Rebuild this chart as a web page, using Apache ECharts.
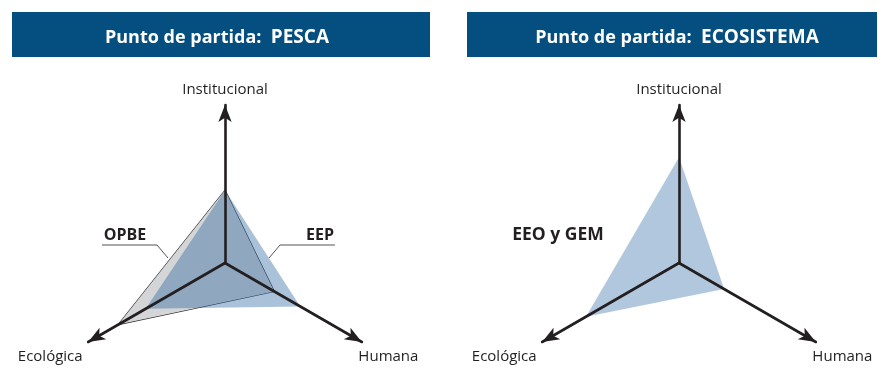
<!DOCTYPE html>
<html>
<head>
<meta charset="utf-8">
<script src="https://cdn.jsdelivr.net/npm/echarts@6/dist/echarts.min.js"></script>
<style>
  html, body { margin: 0; padding: 0; background: #fff; }
  #chart { width: 878px; height: 383px; }
</style>
</head>
<body>
<div id="chart"></div>
<script>
// ejes de los dos diagramas
const indicators = ['Institucional', 'Ecológica', 'Humana'];
const axisMax = 10;

// punto de partida: PESCA
const opbe = [4.6, 7.8, 3.6];
const eep = [4.6, 5.8, 5.5];

// punto de partida: ECOSISTEMA
const eeoGem = [6.7, 6.8, 3.3];

const titles = ['PESCA', 'ECOSISTEMA'];

const ink = '#231f20';
const font = '"Open Sans", "Noto Sans", sans-serif';

// rich keys so each axis name can sit a little differently
const nameKey = {'Institucional': 't', 'Ecológica': 'l', 'Humana': 'r'};

function makeRadar(center) {
    return {
        center: center,
        radius: 158,
        startAngle: 90,
        shape: 'polygon',
        z: 5,
        indicator: indicators.map(n => ({name: n, max: axisMax, min: 0})),
        axisName: {
            color: ink,
            fontFamily: font,
            fontSize: 15,
            formatter: name => '{' + nameKey[name] + '|' + name + '}',
            rich: {
                t: {fontSize: 15, fontFamily: font, color: ink, padding: [0, 0, 12, 0]},
                l: {fontSize: 15, fontFamily: font, color: ink, padding: [34, 9, 0, 0]},
                r: {fontSize: 15, fontFamily: font, color: ink, padding: [34, 0, 0, 0]}
            }
        },
        nameGap: -4,
        axisLine: {
            show: true,
            symbol: ['none', 'arrow'],
            symbolSize: [10, 17],
            lineStyle: {color: ink, width: 2.6}
        },
        axisTick: {show: false},
        axisLabel: {show: false},
        splitLine: {show: false},
        splitArea: {show: false}
    };
}

function titleBar(x, w, textX, word) {
    return [
        {
            type: 'rect',
            shape: {x: x, y: 12, width: w, height: 45},
            style: {fill: '#044f80'}
        },
        {
            type: 'text',
            x: textX,
            y: 38,
            style: {
                text: '{a|Punto de partida:  }{b|' + word + '}',
                align: 'center',
                verticalAlign: 'middle',
                rich: {
                    a: {fontSize: 18, fontWeight: 'bold', fontFamily: font, fill: '#fff', color: '#fff'},
                    b: {fontSize: 19, fontWeight: 'bold', fontFamily: font, fill: '#fff', color: '#fff'}
                }
            }
        }
    ];
}

function label(x, y, text, size) {
    return {
        type: 'text',
        x: x,
        y: y,
        style: {
            text: text,
            fontSize: size,
            fontWeight: 'bold',
            fontFamily: font,
            fill: ink,
            align: 'center',
            verticalAlign: 'middle'
        }
    };
}

function leader(points) {
    return {
        type: 'polyline',
        shape: {points: points},
        style: {stroke: '#555', lineWidth: 1, fill: null}
    };
}

const chart = echarts.init(document.getElementById('chart'));

const option = {
    backgroundColor: '#fff',
    animation: false,
    radar: [makeRadar([225, 263]), makeRadar([679, 263])],
    series: [
        {
            type: 'radar',
            radarIndex: 0,
            symbol: 'none',
            z: 2,
            data: [{
                name: 'OPBE',
                value: opbe,
                lineStyle: {color: '#2a2a2a', width: 1.3},
                areaStyle: {color: '#d4d5d6', opacity: 1}
            }]
        },
        {
            type: 'radar',
            radarIndex: 0,
            symbol: 'none',
            z: 3,
            data: [{
                name: 'EEP',
                value: eep,
                lineStyle: {width: 0, opacity: 0},
                areaStyle: {color: 'rgb(40,100,160)', opacity: 0.4}
            }]
        },
        {
            type: 'radar',
            radarIndex: 1,
            symbol: 'none',
            z: 3,
            data: [{
                name: 'EEO y GEM',
                value: eeoGem,
                lineStyle: {width: 0, opacity: 0},
                areaStyle: {color: 'rgb(40,100,160)', opacity: 0.36}
            }]
        }
    ],
    graphic: [
        ...titleBar(12, 418, 217, titles[0]),
        ...titleBar(467, 410, 677, titles[1]),
        label(125, 235, 'OPBE', 16),
        leader([[102, 245], [157, 245], [168, 258]]),
        label(320, 235, 'EEP', 16),
        leader([[335, 245], [280, 245], [269, 258]]),
        label(558, 235, 'EEO y GEM', 17.5)
    ]
};

chart.setOption(option);
</script>
</body>
</html>
